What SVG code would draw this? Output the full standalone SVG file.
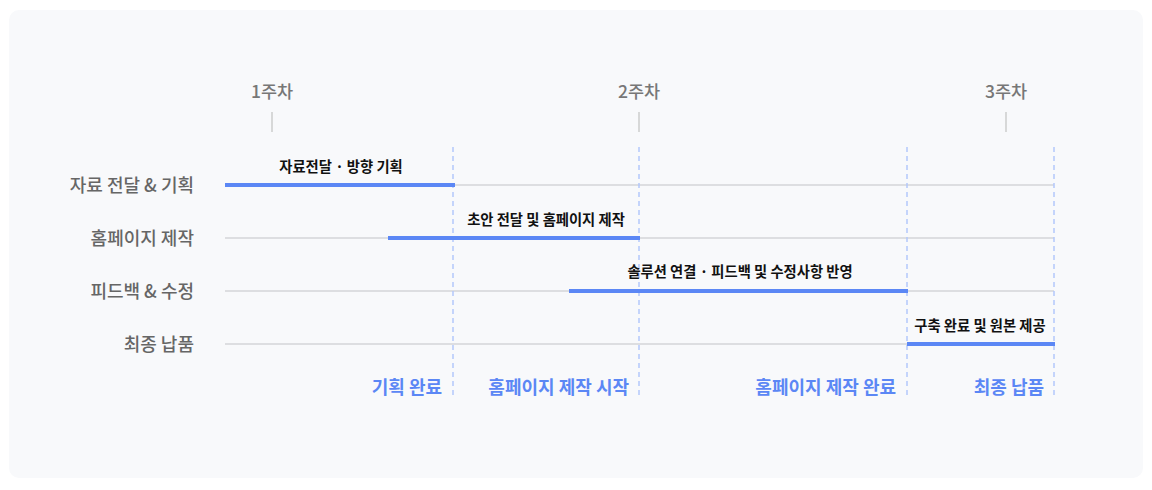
<svg xmlns="http://www.w3.org/2000/svg" width="1152" height="490" viewBox="0 0 1152 490">
  <style>
    text { font-family: "Noto Sans CJK KR", "Noto Sans", sans-serif; }
    .week { font-size: 17.5px; fill: #777777; text-anchor: middle; font-weight: 500; }
    .tick { stroke: #cccccc; stroke-width: 1.5; }
    .row { font-size: 18px; fill: #666666; text-anchor: end; font-weight: 500; }
    .track { stroke: #d4d4d8; stroke-width: 1.5; }
    .bar { stroke: #5b87f5; stroke-width: 4; }
    .blabel { font-size: 14.3px; fill: #111111; text-anchor: middle; font-weight: 700; }
    .dash { stroke: #b3c8fb; stroke-width: 1.5; stroke-dasharray: 5 4; }
    .milestone { font-size: 18px; fill: #5b87f5; text-anchor: end; font-weight: 700; }
  </style>
  <rect x="0" y="0" width="1152" height="490" fill="#ffffff"/>
  <rect x="9" y="10" width="1134" height="468" rx="10" fill="#f8f9fb"/>

  <g id="weeks">
    <text class="week" x="272" y="98">1주차</text>
    <line class="tick" x1="272" y1="112" x2="272" y2="132"/>
    <text class="week" x="639" y="98">2주차</text>
    <line class="tick" x1="639" y1="112" x2="639" y2="132"/>
    <text class="week" x="1006" y="98">3주차</text>
    <line class="tick" x1="1006" y1="112" x2="1006" y2="132"/>
  </g>

  <g id="tracks">
    <line class="track" x1="225" y1="185" x2="1054" y2="185"/>
    <line class="track" x1="225" y1="238" x2="1054" y2="238"/>
    <line class="track" x1="225" y1="291" x2="1054" y2="291"/>
    <line class="track" x1="225" y1="344" x2="1054" y2="344"/>
  </g>

  <g id="milestone-lines">
    <line class="dash" x1="453" y1="147" x2="453" y2="398"/>
    <line class="dash" x1="639" y1="147" x2="639" y2="398"/>
    <line class="dash" x1="907" y1="147" x2="907" y2="398"/>
    <line class="dash" x1="1054" y1="147" x2="1054" y2="398"/>
  </g>

  <g id="row1">
    <text class="row" x="194" y="192">자료 전달 &amp; 기획</text>
    <line class="bar" x1="225" y1="185" x2="455" y2="185"/>
    <text class="blabel" x="341" y="172">자료전달 · 방향 기획</text>
  </g>
  <g id="row2">
    <text class="row" x="194" y="245">홈페이지 제작</text>
    <line class="bar" x1="388" y1="238" x2="640" y2="238"/>
    <text class="blabel" x="546" y="225">초안 전달 및 홈페이지 제작</text>
  </g>
  <g id="row3">
    <text class="row" x="194" y="298">피드백 &amp; 수정</text>
    <line class="bar" x1="569" y1="291" x2="908" y2="291"/>
    <text class="blabel" x="740" y="277">솔루션 연결 · 피드백 및 수정사항 반영</text>
  </g>
  <g id="row4">
    <text class="row" x="194" y="351">최종 납품</text>
    <line class="bar" x1="907" y1="344" x2="1055" y2="344"/>
    <text class="blabel" x="980" y="331">구축 완료 및 원본 제공</text>
  </g>

  <g id="milestones">
    <text class="milestone" x="442" y="394">기획 완료</text>
    <text class="milestone" x="629" y="394">홈페이지 제작 시작</text>
    <text class="milestone" x="896" y="394">홈페이지 제작 완료</text>
    <text class="milestone" x="1044" y="394">최종 납품</text>
  </g>
</svg>
